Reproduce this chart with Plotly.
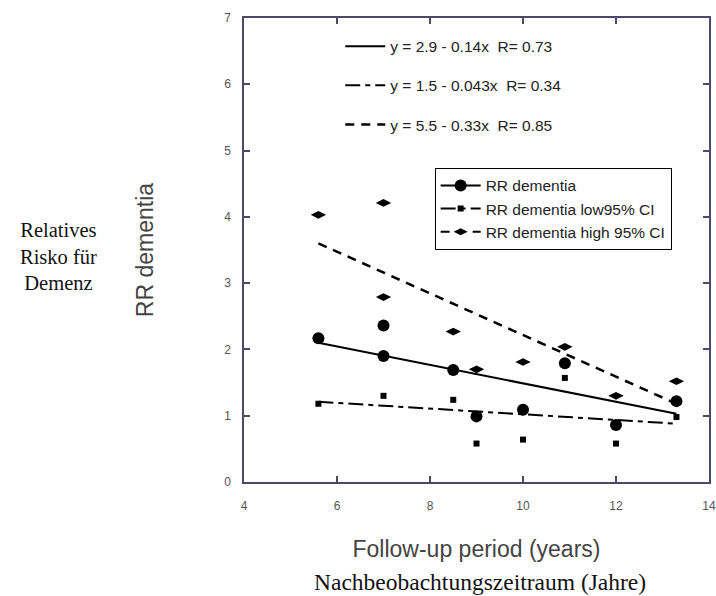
import plotly.graph_objects as go

# ---- data ----
x_rr = [5.6, 7.0, 7.0, 8.5, 9.0, 10.0, 10.9, 12.0, 13.3]
y_rr = [2.17, 2.36, 1.90, 1.69, 0.99, 1.09, 1.79, 0.86, 1.22]

x_low = [5.6, 7.0, 8.5, 9.0, 10.0, 10.9, 12.0, 13.3]
y_low = [1.18, 1.30, 1.24, 0.58, 0.64, 1.57, 0.58, 0.98]

x_high = [5.6, 7.0, 7.0, 8.5, 9.0, 10.0, 10.9, 12.0, 13.3]
y_high = [4.03, 4.21, 2.79, 2.27, 1.70, 1.81, 2.04, 1.30, 1.52]

fit_x = [5.6, 13.3]
fit_rr = [2.10, 1.03]
fit_low = [1.21, 0.88]
fit_high = [3.60, 1.18]

fit_labels = ["y = 2.9 - 0.14x\u00a0\u00a0R= 0.73",
              "y = 1.5 - 0.043x\u00a0\u00a0R= 0.34",
              "y = 5.5 - 0.33x\u00a0\u00a0R= 0.85"]
series_names = ["RR dementia", "RR dementia low95% CI", "RR dementia high 95% CI"]

x_ticks = [4, 6, 8, 10, 12, 14]
y_ticks = [0, 1, 2, 3, 4, 5, 6, 7]

BLACK = "black"
dash_low = "15px,5px,5px,5px"
dash_high = "9px,7px"

fig = go.Figure()

# regression lines (legend2)
for i, (fy, dash, w) in enumerate([(fit_rr, "solid", 2), (fit_low, dash_low, 2), (fit_high, dash_high, 2.5)]):
    fig.add_trace(go.Scatter(x=fit_x, y=fy, mode="lines", name=fit_labels[i],
                             line=dict(color=BLACK, width=w, dash=dash),
                             legend="legend2", legendgroup="g%d" % i, showlegend=True))

# data markers
fig.add_trace(go.Scatter(x=x_rr, y=y_rr, mode="markers", showlegend=False,
                         marker=dict(symbol="circle", size=12, color=BLACK)))
fig.add_trace(go.Scatter(x=x_low, y=y_low, mode="markers", showlegend=False,
                         marker=dict(symbol="square", size=6, color=BLACK)))
fig.add_trace(go.Scatter(x=x_high, y=y_high, mode="markers", showlegend=False,
                         marker=dict(symbol="diamond-wide", size=11, color=BLACK)))

# legend entries (line + marker samples)
legend_specs = [("circle", 12, "solid"), ("square", 6, dash_low), ("diamond-wide", 10, dash_high)]
for name, (sym, sz, dash) in zip(series_names, legend_specs):
    fig.add_trace(go.Scatter(x=[None], y=[None], mode="lines+markers", name=name,
                             line=dict(color=BLACK, width=2, dash=dash),
                             marker=dict(symbol=sym, size=sz, color=BLACK),
                             legend="legend"))

frame = "#4a4a66"
axis_common = dict(showgrid=False, zeroline=False, showline=True, linecolor=frame, linewidth=1.5,
                   mirror="allticks", ticks="inside", ticklen=6, tickcolor=frame, tickwidth=1.5,
                   automargin=False,
                   tickfont=dict(family="Liberation Sans", size=12, color="#555555"))

fig.update_xaxes(range=[4, 14], tickvals=x_ticks, ticklabelstandoff=12, **axis_common,
                 title=dict(text="Follow-up period (years)",
                            font=dict(family="Liberation Sans", size=23, color="#444444"),
                            standoff=29))
fig.update_yaxes(range=[0, 7], tickvals=y_ticks, ticklabelstandoff=9, **axis_common,
                 title=dict(text="RR dementia",
                            font=dict(family="Liberation Sans", size=23, color="#444444"),
                            standoff=64))

fig.add_annotation(text="Relatives<br>Risko für<br>Demenz", xref="paper", yref="paper",
                   x=-0.40, y=0.485, xanchor="center", yanchor="middle", showarrow=False,
                   align="center", font=dict(family="Liberation Serif", size=20.5, color="#111111"))
fig.add_annotation(text="Nachbeobachtungszeitraum (Jahre)", xref="paper", yref="paper",
                   x=0.508, y=-0.215, xanchor="center", yanchor="middle", showarrow=False,
                   font=dict(family="Liberation Serif", size=23.5, color="#111111"))

fig.update_layout(
    width=716, height=596,
    margin=dict(l=244, r=7, t=18, b=114),
    paper_bgcolor="white", plot_bgcolor="white",
    legend=dict(x=0.41, y=0.677, xanchor="left", yanchor="top",
                bgcolor="white", bordercolor="black", borderwidth=1,
                font=dict(family="Liberation Sans", size=15.5, color="#222222"),
                tracegroupgap=0, itemwidth=40),
    legend2=dict(x=0.207, y=0.975, xanchor="left", yanchor="top",
                 bgcolor="rgba(0,0,0,0)", borderwidth=0,
                 font=dict(family="Liberation Sans", size=15.5, color="#222222"),
                 tracegroupgap=16, itemwidth=40),
)

# remove the default page margin so the 716x596 figure fills the window exactly
fig.write_html("out.html", config={"displayModeBar": False},
               post_script="document.body.style.margin='0';document.body.style.overflow='hidden';")
